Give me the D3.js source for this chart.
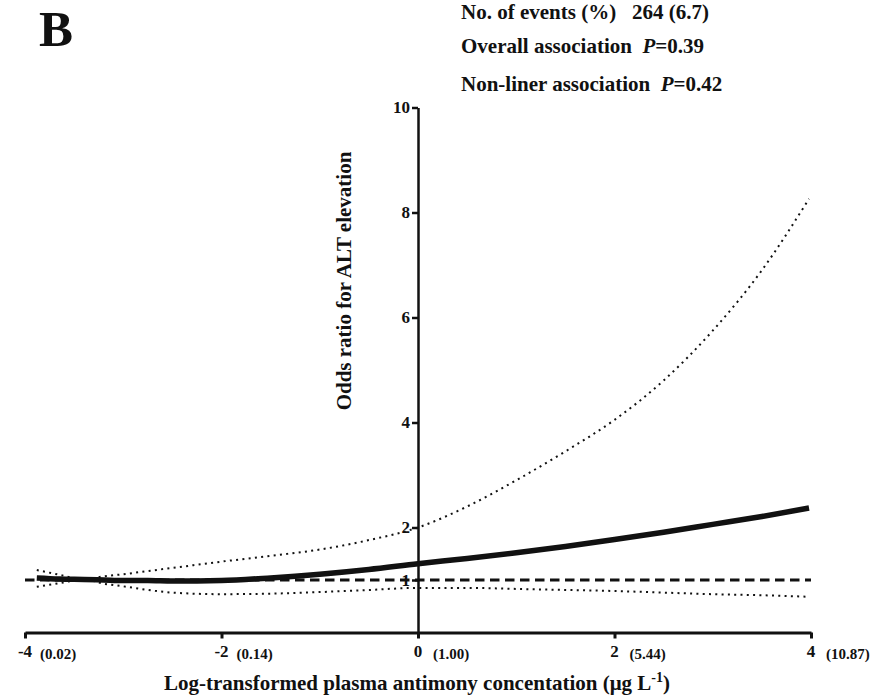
<!DOCTYPE html>
<html>
<head>
<meta charset="utf-8">
<script src="https://cdn.jsdelivr.net/npm/d3@7"></script>
<style>
  html, body { margin: 0; padding: 0; background: #fff; }
  svg { display: block; }
  text { font-family: "Liberation Serif", "Times New Roman", serif; fill: #111; }
</style>
</head>
<body>
<svg id="chart" width="888" height="700"></svg>
<script>
// Log-transformed plasma antimony (x) and restricted cubic spline odds ratios
const logSb = [-3.88, -3.65, -3.4, -3.2, -3.0, -2.75, -2.5, -2.0, -1.5, -1.0, -0.5, 0, 0.5, 1.0, 1.5, 2.0, 2.5, 3.0, 3.5, 3.98];
const oddsRatio = [1.04, 1.02, 1.01, 1.00, 0.99, 0.99, 0.98, 0.99, 1.04, 1.11, 1.20, 1.31, 1.41, 1.52, 1.64, 1.77, 1.91, 2.06, 2.21, 2.37];
const upperCI = [1.19, 1.10, 1.01, 1.07, 1.11, 1.17, 1.23, 1.35, 1.46, 1.58, 1.76, 2.00, 2.40, 2.90, 3.45, 4.05, 4.80, 5.75, 6.90, 8.26];
const lowerCI = [0.87, 0.94, 1.01, 0.93, 0.88, 0.81, 0.76, 0.73, 0.74, 0.77, 0.81, 0.85, 0.85, 0.83, 0.81, 0.79, 0.76, 0.73, 0.71, 0.68];

// Axis ticks
const xTicks = [-4, -2, 0, 2, 4];
const xTickLabels = ["-4", "-2", "0", "2", "4"];
const xTickNotes = ["(0.02)", "(0.14)", "(1.00)", "(5.44)", "(10.87)"];
const yTicks = [1, 2, 4, 6, 8, 10];

// Header notes
const noteLabels = ["No. of events (%)", "Overall association", "Non-liner association"];
const noteValues = ["264 (6.7)", "=0.39", "=0.42"];

const svg = d3.select("#chart");

const x = d3.scaleLinear().domain([-4, 4]).range([25, 811]);
const y = d3.scaleLinear().domain([0, 10]).range([632.5, 107.5]);

// Panel letter
svg.append("text")
  .attr("x", 39).attr("y", 46)
  .attr("font-size", 51).attr("font-weight", "bold")
  .text("B");

// Header notes
const noteY = [19, 53, 91];
noteLabels.forEach((lab, i) => {
  const t = svg.append("text")
    .attr("x", 461).attr("y", noteY[i])
    .attr("font-size", 21).attr("font-weight", "bold");
  t.append("tspan").text(lab);
  if (i === 0) {
    t.append("tspan").text("\u00a0\u00a0\u00a0" + noteValues[i]);
  } else {
    t.append("tspan").text("\u00a0\u00a0");
    t.append("tspan").attr("font-style", "italic").text("P");
    t.append("tspan").text(noteValues[i]);
  }
});

// Reference line at OR = 1
svg.append("line")
  .attr("x1", x(-4)).attr("x2", x(4))
  .attr("y1", y(1)).attr("y2", y(1))
  .attr("stroke", "#111").attr("stroke-width", 3)
  .attr("stroke-dasharray", "9.5,5.5");

// X axis
const xAxis = svg.append("g")
  .attr("transform", `translate(0,${y(0)})`)
  .call(d3.axisBottom(x).tickValues(xTicks).tickSize(6).tickSizeOuter(0).tickFormat(""));
xAxis.select(".domain").attr("stroke", "#111").attr("stroke-width", 3);
xAxis.selectAll(".tick line").attr("stroke", "#111").attr("stroke-width", 3);

xTicks.forEach((v, i) => {
  svg.append("text")
    .attr("x", x(v)).attr("y", 657)
    .attr("text-anchor", "middle")
    .attr("font-size", 17).attr("font-weight", "bold")
    .text(xTickLabels[i]);
  svg.append("text")
    .attr("x", x(v) + 15).attr("y", 659)
    .attr("font-size", 15).attr("font-weight", "bold")
    .text(xTickNotes[i]);
});

// Y axis (crosses at x = 0)
const yAxis = svg.append("g")
  .attr("transform", `translate(${x(0)},0)`)
  .call(d3.axisLeft(y).tickValues(yTicks).tickSize(6).tickSizeOuter(0).tickPadding(2));
yAxis.select(".domain").attr("stroke", "#111").attr("stroke-width", 2.5);
yAxis.selectAll(".tick line").attr("stroke", "#111").attr("stroke-width", 2.5);
yAxis.selectAll(".tick text")
  .attr("font-family", "Liberation Serif, Times New Roman, serif")
  .attr("font-size", 17).attr("font-weight", "bold").attr("fill", "#111");

// Axis titles
const xTitle = svg.append("text")
  .attr("x", 417).attr("y", 690)
  .attr("text-anchor", "middle")
  .attr("font-size", 21).attr("font-weight", "bold");
xTitle.append("tspan").text("Log-transformed plasma antimony concentation (\u03bcg L");
xTitle.append("tspan").attr("font-size", 14).attr("dy", -8).text("-1");
xTitle.append("tspan").attr("dy", 8).text(")");

svg.append("text")
  .attr("transform", "translate(351,281) rotate(-90)")
  .attr("text-anchor", "middle")
  .attr("font-size", 21).attr("font-weight", "bold")
  .text("Odds ratio for ALT elevation");

// Spline curves
const line = (vals) => d3.line()
  .x((d, i) => x(logSb[i]))
  .y(d => y(d))
  .curve(d3.curveMonotoneX)(vals);

svg.append("path")
  .attr("d", line(upperCI))
  .attr("fill", "none").attr("stroke", "#111").attr("stroke-width", 2)
  .attr("stroke-dasharray", "2,4.3");
svg.append("path")
  .attr("d", line(lowerCI))
  .attr("fill", "none").attr("stroke", "#111").attr("stroke-width", 2)
  .attr("stroke-dasharray", "2,4.3");
svg.append("path")
  .attr("d", line(oddsRatio))
  .attr("fill", "none").attr("stroke", "#111").attr("stroke-width", 5.5);
</script>
</body>
</html>
